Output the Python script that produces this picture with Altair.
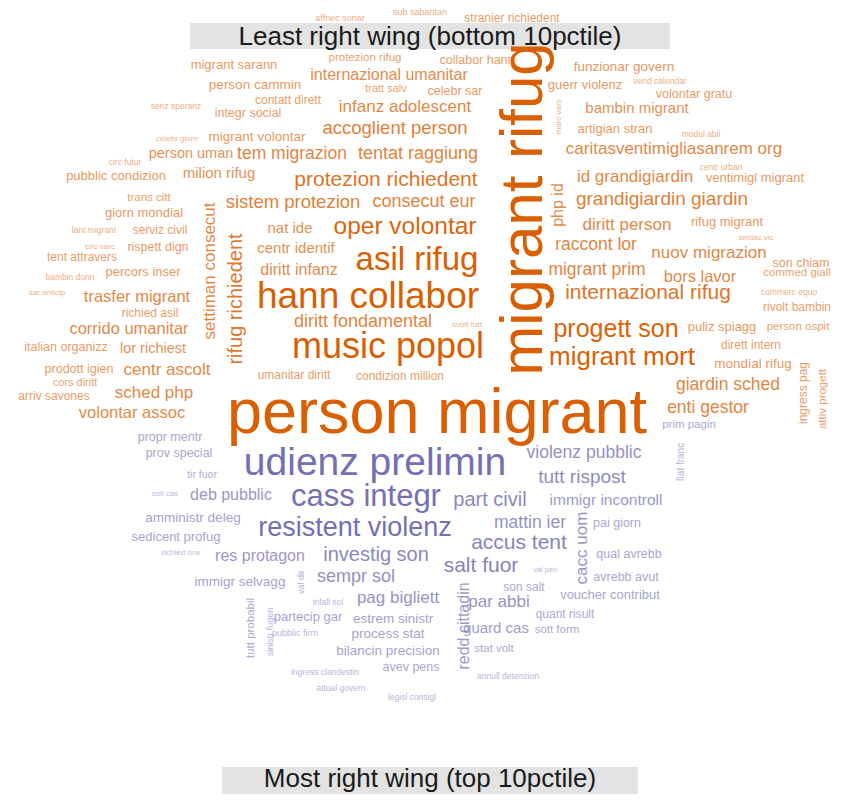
import altair as alt
import pandas as pd

# ---- Least right wing (bottom 10pctile) : orange words ----
least_words = [
    "affnec sonar", "sub sabantan", "stranier richiedent", "protezion rifug", "collabor hann",
    "migrant sarann", "person cammin", "internazional umanitar", "tratt salv", "celebr sar",
    "contatt dirett", "senz speranz", "integr social", "infanz adolescent", "accoglient person",
    "celebr giorn", "migrant volontar", "person uman", "tem migrazion", "tentat raggiung",
    "circ futur", "pubblic condizion", "milion rifug", "protezion richiedent", "sistem protezion",
    "consecut eur", "trans citt", "giorn mondial", "lant migrant", "serviz civil",
    "settiman consecut", "rifug richiedent", "nat ide", "oper volontar", "php id",
    "marc vars", "guerr violenz", "funzionar govern", "vend calendar", "volontar gratu",
    "bambin migrant", "artigian stran", "modul abil", "caritasventimigliasanrem org", "id grandigiardin",
    "centr urban", "ventimigl migrant", "grandigiardin giardin", "diritt person", "rifug migrant",
    "sindac vic", "raccont lor", "nuov migrazion", "son chiam", "commed giall",
    "migrant prim", "bors lavor", "internazional rifug", "commerc equo", "rivolt bambin",
    "progett son", "puliz spiagg", "person ospit", "dirett intern", "migrant mort",
    "mondial rifug", "ingress pag", "attiv progett", "giardin sched", "enti gestor",
    "circ varc", "rispett dign", "tent attravers", "bambin donn", "percors inser",
    "sar anticip", "trasfer migrant", "richied asil", "corrido umanitar", "italian organizz",
    "lor richiest", "prodott igien", "centr ascolt", "cors diritt", "arriv savones",
    "sched php", "volontar assoc", "centr identif", "asil rifug", "diritt infanz",
    "hann collabor", "diritt fondamental", "svolt tutt", "music popol", "umanitar diritt",
    "condizion million", "person migrant", "migrant rifug",
]
least_x = [
    340, 420, 512, 365, 477,
    234, 255, 389, 386, 455,
    288, 176, 248, 405, 395,
    177, 257, 191, 292, 418,
    125, 116, 219, 386, 293,
    424, 149, 144, 94, 160,
    210, 236, 290, 405, 558,
    559, 585, 624, 660, 694,
    637, 615, 701, 674, 635,
    721, 755, 662, 627, 727,
    756, 596, 709, 801, 797,
    597, 700, 648, 789, 797,
    616, 722, 798, 751, 622,
    753, 803, 823, 728, 708,
    100, 158, 82, 70, 143,
    47, 137, 150, 129, 66,
    153, 79, 167, 75, 54,
    154, 132, 296, 417, 299,
    368, 363, 467, 388, 294,
    400, 437, 524,
]
least_y = [
    18, 12, 18, 58, 60,
    65, 85, 75, 89, 91,
    100, 106, 113, 107, 128,
    139, 137, 154, 154, 154,
    162, 176, 173, 180, 202,
    202, 198, 213, 230, 230,
    271, 299, 228, 227, 205,
    117, 85, 67, 81, 94,
    108, 129, 134, 149, 177,
    167, 178, 199, 225, 222,
    238, 245, 253, 263, 273,
    270, 277, 293, 292, 307,
    329, 327, 327, 345, 357,
    364, 393, 399, 385, 408,
    247, 247, 257, 277, 272,
    293, 297, 313, 329, 347,
    349, 369, 370, 383, 396,
    393, 413, 248, 260, 270,
    297, 322, 325, 347, 375,
    376, 414, 209,
]
least_size = [
    9, 9, 12, 11.5, 12.5,
    13, 13.5, 16, 11, 12.5,
    12, 8.5, 12.5, 17, 18.5,
    8, 13.5, 14.5, 17.5, 18,
    8.5, 13, 15, 21, 18.5,
    18, 11.5, 13, 8.5, 12,
    17, 20, 15, 24.5, 16,
    8, 13, 13.5, 8.5, 12.5,
    15, 13, 8.5, 17, 17,
    8.5, 13, 19, 17, 13,
    8, 17.5, 17, 12.5, 11.5,
    17.5, 16.5, 21, 8.5, 12,
    25, 13, 11.5, 12, 26,
    13.5, 12, 11.5, 17.5, 17.5,
    8, 12.5, 12, 8.5, 13,
    8, 16.5, 12, 16.5, 12.5,
    14.5, 12.5, 17, 11, 12,
    17, 16.5, 15, 33, 16,
    37, 18, 8, 36, 12,
    12, 63, 60,
]
least_angle = [
    0, 0, 0, 0, 0,
    0, 0, 0, 0, 0,
    0, 0, 0, 0, 0,
    0, 0, 0, 0, 0,
    0, 0, 0, 0, 0,
    0, 0, 0, 0, 0,
    270, 270, 0, 0, 270,
    270, 0, 0, 0, 0,
    0, 0, 0, 0, 0,
    0, 0, 0, 0, 0,
    0, 0, 0, 0, 0,
    0, 0, 0, 0, 0,
    0, 0, 0, 0, 0,
    0, 270, 270, 0, 0,
    0, 0, 0, 0, 0,
    0, 0, 0, 0, 0,
    0, 0, 0, 0, 0,
    0, 0, 0, 0, 0,
    0, 0, 0, 0, 0,
    0, 0, 270,
]

# ---- Most right wing (top 10pctile) : purple words ----
most_words = [
    "udienz prelimin", "violenz pubblic", "fiat franc", "prim pagin", "propr mentr",
    "prov special", "tir fuor", "soll cas", "deb pubblic", "amministr deleg",
    "sedicent profug", "richied rinv", "res protagon", "immigr selvagg", "tutt probabil",
    "sinistr fugen", "val dir", "infall sol", "partecip gar", "pubblic firm",
    "ingress clandestin", "attual govern", "legisl consigl", "sempr sol", "pag bigliett",
    "estrem sinistr", "process stat", "bilancin precision", "avev pens", "redd cittadin",
    "cass integr", "part civil", "resistent violenz", "tutt rispost", "immigr incontroll",
    "mattin ier", "accus tent", "investig son", "salt fuor", "val pen",
    "cacc uom", "pai giorn", "qual avrebb", "avrebb avut", "son salt",
    "voucher contribut", "par abbi", "quant risult", "guard cas", "sott form",
    "stat volt", "annull detenzion",
]
most_x = [
    375, 584, 681, 689, 170,
    179, 202, 165, 231, 193,
    176, 181, 260, 240, 251,
    270, 301, 328, 308, 295,
    325, 341, 412, 356, 398,
    393, 388, 388, 411, 464,
    366, 490, 355, 582, 606,
    530, 519, 376, 481, 545,
    582, 617, 629, 626, 524,
    610, 499, 565, 496, 557,
    494, 508,
]
most_y = [
    463, 453, 462, 425, 437,
    453, 475, 494, 495, 518,
    537, 553, 556, 582, 628,
    632, 582, 602, 617, 633,
    672, 688, 697, 577, 598,
    619, 634, 651, 667, 626,
    497, 500, 528, 477, 500,
    523, 543, 555, 566, 570,
    548, 523, 554, 577, 587,
    595, 602, 614, 628, 630,
    649, 676,
]
most_size = [
    39, 17.5, 10, 11.5, 12.5,
    12.5, 10.5, 8, 16, 13.5,
    13, 8, 16, 13.5, 11.5,
    9, 9, 8.5, 13, 9,
    8.5, 8.5, 8.5, 18, 17,
    13.5, 13.5, 13.5, 12.5, 16,
    31, 20, 27, 19, 15.5,
    17.5, 21, 20, 21, 7.5,
    17, 12.5, 12.5, 12.5, 12,
    13, 17, 12, 15, 11.5,
    11.5, 8.5,
]
most_angle = [
    0, 0, 270, 0, 0,
    0, 0, 0, 0, 0,
    0, 0, 0, 0, 270,
    270, 270, 0, 0, 0,
    0, 0, 0, 0, 0,
    0, 0, 0, 0, 270,
    0, 0, 0, 0, 0,
    0, 0, 0, 0, 0,
    270, 0, 0, 0, 0,
    0, 0, 0, 0, 0,
    0, 0,
]

group_names = ["Least right wing (bottom 10pctile)", "Most right wing (top 10pctile)"]
group_colors = ["#D95F02", "#7570B3"]

# title banners (image coordinates)
banner_x1 = [190, 222]
banner_x2 = [670, 638]
banner_y1 = [23, 767]
banner_y2 = [49, 794]
banner_tx = [430, 430]
banner_ty = [37, 779]

assert len(least_words) == len(least_x) == len(least_y) == len(least_size) == len(least_angle)
assert len(most_words) == len(most_x) == len(most_y) == len(most_size) == len(most_angle)

words_df = pd.concat([
    pd.DataFrame({"word": least_words, "x": least_x, "y": least_y, "size": least_size,
                  "angle": least_angle, "group": group_names[0]}),
    pd.DataFrame({"word": most_words, "x": most_x, "y": most_y, "size": most_size,
                  "angle": most_angle, "group": group_names[1]}),
], ignore_index=True)

banner_df = pd.DataFrame({"title": group_names, "x1": banner_x1, "x2": banner_x2,
                          "y1": banner_y1, "y2": banner_y2, "tx": banner_tx, "ty": banner_ty})

W, H = 825, 786
xs = alt.Scale(domain=[8, 8 + W], nice=False, zero=False)
ys = alt.Scale(domain=[8, 8 + H], nice=False, zero=False, reverse=True)
FONT = "Liberation Sans"

rects = alt.Chart(banner_df).mark_rect(color="#E3E3E3").encode(
    x=alt.X("x1:Q", scale=xs, axis=None), x2="x2:Q",
    y=alt.Y("y1:Q", scale=ys, axis=None), y2="y2:Q",
)
titles = alt.Chart(banner_df).mark_text(font=FONT, fontSize=26, color="#1a1a1a",
                                        align="center", baseline="middle").encode(
    x=alt.X("tx:Q", scale=xs, axis=None),
    y=alt.Y("ty:Q", scale=ys, axis=None),
    text="title:N",
)
cloud = alt.Chart(words_df).mark_text(font=FONT, align="center", baseline="middle").encode(
    x=alt.X("x:Q", scale=xs, axis=None),
    y=alt.Y("y:Q", scale=ys, axis=None),
    text="word:N",
    size=alt.Size("size:Q", scale=None, legend=None),
    angle=alt.Angle("angle:Q", scale=None),
    color=alt.Color("group:N", scale=alt.Scale(domain=group_names, range=group_colors), legend=None),
    opacity=alt.Opacity("size:Q", scale=alt.Scale(domain=[8, 26], range=[0.5, 1.0], clamp=True),
                        legend=None),
)

chart = alt.layer(rects, titles, cloud).properties(
    width=W, height=H, padding=0, autosize=alt.AutoSizeParams(type="none"),
).configure_view(stroke=None)

chart.save("out.html", embed_options={"renderer": "svg", "actions": False})
